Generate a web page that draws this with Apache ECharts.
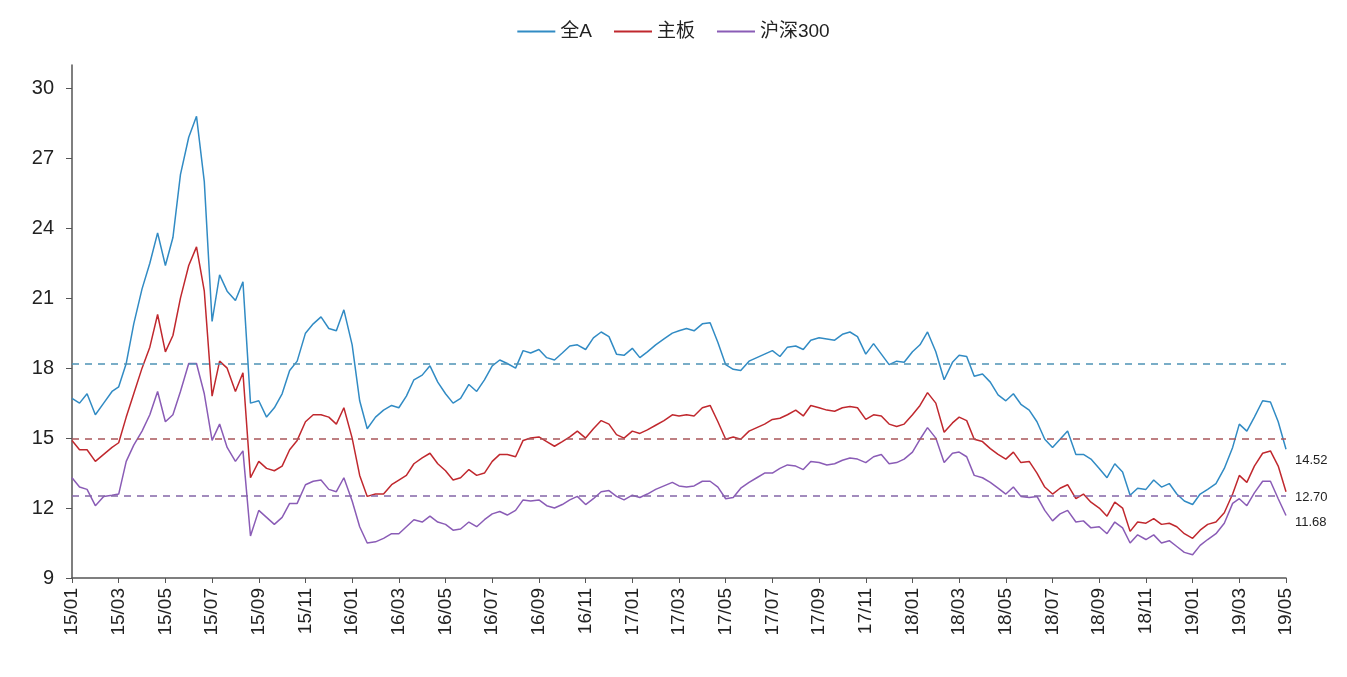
<!DOCTYPE html>
<html>
<head>
<meta charset="utf-8">
<script src="https://cdn.jsdelivr.net/npm/echarts@6/dist/echarts.min.js"></script>
<style>
  html, body { margin: 0; padding: 0; background: #fff; }
  #chart { width: 1347px; height: 677px; }
</style>
</head>
<body>
<div id="chart"></div>
<script>
// sampling: days 1 / 11 / 21 of every month, 2015-01-01 .. 2019-05-01
const startYear = 2015;
const sampleDays = [1, 11, 21];
const lastDate = "2019-05-01";

const seriesNames = ["全A", "主板", "沪深300"];

const quanA = [
  16.7, 16.5, 16.9, 16.0, 16.5, 17.0, 17.2, 18.2, 19.9, 21.4,
  22.5, 23.8, 22.4, 23.6, 26.3, 27.9, 28.8, 26.0, 20.0, 22.0,
  21.3, 20.9, 21.7, 16.5, 16.6, 15.9, 16.3, 16.9, 17.9, 18.3,
  19.5, 19.9, 20.2, 19.7, 19.6, 20.5, 19.0, 16.6, 15.4, 15.9,
  16.2, 16.4, 16.3, 16.8, 17.5, 17.7, 18.1, 17.4, 16.9, 16.5,
  16.7, 17.3, 17.0, 17.5, 18.1, 18.35, 18.2, 18.0, 18.75, 18.65,
  18.8, 18.45, 18.35, 18.65, 18.95, 19.0, 18.8, 19.3, 19.55, 19.35,
  18.6, 18.55, 18.85, 18.45, 18.7, 19.0, 19.25, 19.5, 19.6, 19.7,
  19.6, 19.9, 19.95, 19.1, 18.15, 17.95, 17.9, 18.3, 18.45, 18.6,
  18.75, 18.5, 18.9, 18.95, 18.8, 19.2, 19.3, 19.25, 19.2, 19.45,
  19.55, 19.35, 18.6, 19.05, 18.6, 18.15, 18.3, 18.25, 18.7, 19.0,
  19.55, 18.7, 17.5, 18.25, 18.55, 18.5, 17.65, 17.75, 17.4, 16.85,
  16.6, 16.9, 16.45, 16.2, 15.7, 14.95, 14.6, 14.95, 15.3, 14.3,
  14.3, 14.1, 13.7, 13.3, 13.9, 13.55, 12.55, 12.85, 12.8, 13.2,
  12.9, 13.05, 12.6, 12.3, 12.15, 12.6, 12.8, 13.05, 13.7, 14.6,
  15.6, 15.3, 15.9, 16.6, 16.55, 15.7, 14.52
];

const zhuBan = [
  14.9, 14.5, 14.5, 14.0, 14.3, 14.6, 14.8, 15.9, 16.9, 18.0,
  18.9, 20.3, 18.7, 19.4, 21.0, 22.4, 23.2, 21.3, 16.8, 18.3,
  18.0, 17.0, 17.8, 13.3, 14.0, 13.7, 13.6, 13.8, 14.5, 14.9,
  15.7, 16.0, 16.0, 15.9, 15.6, 16.3, 15.0, 13.4, 12.5, 12.6,
  12.6, 13.0, 13.2, 13.4, 13.9, 14.15, 14.35, 13.9, 13.6, 13.2,
  13.3, 13.65, 13.4, 13.5, 14.0, 14.3, 14.3, 14.2, 14.9, 15.0,
  15.05, 14.85, 14.65, 14.85, 15.05, 15.3, 15.0, 15.4, 15.75, 15.6,
  15.15, 15.0, 15.3, 15.2, 15.35, 15.55, 15.75, 16.0, 15.95, 16.0,
  15.95, 16.3, 16.4, 15.7, 14.95, 15.05, 14.95, 15.3, 15.45, 15.6,
  15.8, 15.85, 16.0, 16.2, 15.95, 16.4, 16.3, 16.2, 16.15, 16.3,
  16.35, 16.3, 15.8, 16.0, 15.95, 15.6, 15.5, 15.6, 16.0, 16.4,
  16.95, 16.5, 15.25, 15.65, 15.9, 15.75, 14.95, 14.85, 14.55, 14.3,
  14.1, 14.4, 13.95, 14.0, 13.5, 12.9, 12.6, 12.85, 13.0, 12.4,
  12.6, 12.25, 12.0, 11.65, 12.25, 12.0, 11.0, 11.4, 11.35, 11.55,
  11.3, 11.35, 11.2, 10.9, 10.7, 11.05, 11.3, 11.4, 11.8, 12.6,
  13.4, 13.1, 13.8, 14.35, 14.45, 13.8, 12.70
];

const hs300 = [
  13.3, 12.9, 12.8, 12.1, 12.5, 12.55, 12.6, 14.0, 14.7, 15.3,
  16.0, 17.0, 15.7, 16.0, 17.0, 18.2, 18.2, 16.9, 14.9, 15.6,
  14.6, 14.0, 14.45, 10.8, 11.9, 11.6, 11.3, 11.6, 12.2, 12.2,
  13.0, 13.15, 13.2, 12.8, 12.7, 13.3, 12.3, 11.2, 10.5, 10.55,
  10.7, 10.9, 10.9, 11.2, 11.5, 11.4, 11.65, 11.4, 11.3, 11.05,
  11.1, 11.4, 11.2, 11.5, 11.75, 11.85, 11.7, 11.9, 12.35, 12.3,
  12.35, 12.1, 12.0, 12.15, 12.35, 12.5, 12.15, 12.4, 12.7, 12.75,
  12.5, 12.35, 12.55, 12.45, 12.6, 12.8, 12.95, 13.1, 12.95, 12.9,
  12.95, 13.15, 13.15, 12.9, 12.4, 12.45, 12.85, 13.1, 13.3, 13.5,
  13.5, 13.7, 13.85, 13.8, 13.65, 14.0, 13.95, 13.85, 13.9, 14.05,
  14.15, 14.1, 13.95, 14.2, 14.3, 13.9, 13.95, 14.1, 14.4, 14.95,
  15.45, 15.0, 13.95, 14.35, 14.4, 14.2, 13.4, 13.3, 13.1, 12.85,
  12.6, 12.9, 12.5, 12.45, 12.5, 11.9, 11.45, 11.75, 11.9, 11.4,
  11.45, 11.15, 11.2, 10.9, 11.4, 11.15, 10.5, 10.85, 10.65, 10.85,
  10.5, 10.6, 10.35, 10.1, 10.0, 10.4, 10.65, 10.9, 11.35, 12.2,
  12.4, 12.1, 12.65, 13.15, 13.15, 12.4, 11.68
];

// average levels (dashed lines)
const avgLevels = [18.17, 14.96, 12.54];

const lineColors = ["#318bc4", "#c0282e", "#8a5cb6"];
const avgColors = ["#4d93b5", "#a9555a", "#8465a8"];
const endLabelOffsets = [[1, 11], [1, 6], [1, 7]];

const font = "'Liberation Sans', Arial, 'Noto Sans CJK SC', sans-serif";

function pad(n) {
  return n < 10 ? "0" + n : "" + n;
}

const dates = [];
for (let y = startYear; ; y++) {
  let done = false;
  for (let mo = 1; mo <= 12 && !done; mo++) {
    for (const d of sampleDays) {
      const s = y + "-" + pad(mo) + "-" + pad(d);
      dates.push(s);
      if (s === lastDate) { done = true; break; }
    }
  }
  if (done) break;
}

// date -> months since Jan 2015 (fractional)
function monthIndex(s) {
  const [y, mo, d] = s.split("-").map(Number);
  const dim = new Date(y, mo, 0).getDate();
  return (y - startYear) * 12 + (mo - 1) + (d - 1) / dim;
}

const xs = dates.map(monthIndex);
const allValues = [quanA, zhuBan, hs300];

const chart = echarts.init(document.getElementById("chart"));

const series = seriesNames.map((name, i) => ({
  name: name,
  type: "line",
  symbol: "none",
  data: xs.map((x, j) => [x, allValues[i][j]]),
  lineStyle: { width: 1.5, color: lineColors[i] },
  itemStyle: { color: lineColors[i] },
  endLabel: {
    show: true,
    formatter: (p) => p.value[1].toFixed(2),
    color: "#222",
    fontSize: 13,
    fontFamily: font,
    offset: endLabelOffsets[i],
  },
  markLine: {
    silent: true,
    symbol: "none",
    label: { show: false },
    lineStyle: { type: [7, 6], width: 1.5, color: avgColors[i] },
    data: [{ yAxis: avgLevels[i] }],
  },
  z: 3 - i,
}));

chart.setOption({
  backgroundColor: "#fff",
  animation: false,
  legend: {
    data: seriesNames,
    top: 17,
    left: "center",
    icon: "rect",
    itemWidth: 38,
    itemHeight: 2,
    itemGap: 22,
    textStyle: { fontSize: 19, color: "#222", fontFamily: font },
  },
  grid: {
    left: 72,
    right: 61,
    top: 65,
    bottom: 99,
  },
  xAxis: {
    type: "value",
    min: 0,
    max: 52,
    interval: 2,
    splitLine: { show: false },
    axisLine: { lineStyle: { color: "#555", width: 1.5 } },
    axisTick: { show: true, length: 5, lineStyle: { color: "#555" } },
    axisLabel: {
      rotate: 90,
      fontSize: 19,
      color: "#222",
      fontFamily: font,
      margin: 10,
      formatter: (v) => {
        const yy = 15 + Math.floor(v / 12);
        const mm = (v % 12) + 1;
        return yy + "/" + pad(mm);
      },
    },
  },
  yAxis: {
    type: "value",
    min: 9,
    max: 31,
    interval: 3,
    splitLine: { show: false },
    axisLine: { show: true, lineStyle: { color: "#555", width: 1.5 } },
    axisTick: { show: true, length: 6, lineStyle: { color: "#555" } },
    axisLabel: {
      fontSize: 20,
      color: "#222",
      fontFamily: font,
      margin: 18,
      showMaxLabel: false,
    },
  },
  series: series,
});
</script>
</body>
</html>
